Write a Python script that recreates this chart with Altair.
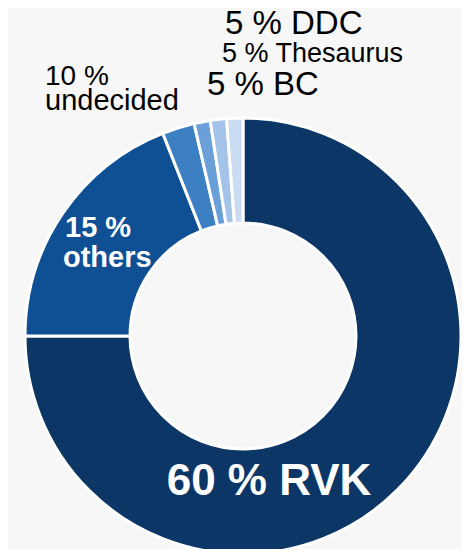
import altair as alt
import pandas as pd

# Slices, clockwise from 12 o'clock, with the angular share each one is drawn with
categories = ["RVK", "others", "undecided", "BC", "Thesaurus", "DDC"]
drawn_share = [75.0, 19.0, 2.4, 1.2, 1.2, 1.2]
label_pct = ["60 %", "15 %", "10 %", "5 %", "5 %", "5 %"]
slice_colors = ["#0b3665", "#0f4f94", "#3d7fc3", "#6a9fd8", "#a3c3e8", "#c9dcf1"]

BG = "#f8f7f7"
FONT = "Liberation Sans"

df = pd.DataFrame({
    "category": categories,
    "share": drawn_share,
    "order": list(range(len(categories))),
})

donut = alt.Chart(df).mark_arc(
    outerRadius=218, innerRadius=113, stroke="white", strokeWidth=3
).encode(
    x=alt.value(235),
    y=alt.value(328),
    theta=alt.Theta("share:Q", stack=True),
    color=alt.Color("category:N",
                    scale=alt.Scale(domain=categories, range=slice_colors),
                    legend=None),
    order=alt.Order("order:Q", sort="ascending"),
)

lab = dict(zip(categories, label_pct))


def txt(text, x, y, size, color="black", weight="normal", align="left"):
    return alt.Chart(pd.DataFrame({"t": [text]})).mark_text(
        x=x, y=y, align=align, baseline="alphabetic", font=FONT,
        fontSize=size, color=color, fontWeight=weight,
    ).encode(text="t:N")


layers = [
    donut,
    txt(f"{lab['RVK']} RVK", 261, 487, 44, "white", "bold", "center"),
    txt(lab["others"], 57, 229, 29, "white", "bold"),
    txt("others", 55, 259, 29, "white", "bold"),
    txt(lab["undecided"], 37, 77, 28),
    txt("undecided", 37, 102, 29),
    txt(f"{lab['DDC']} DDC", 217, 26, 33),
    txt(f"{lab['Thesaurus']} Thesaurus", 214, 54, 27),
    txt(f"{lab['BC']} BC", 199, 87, 33),
]

chart = alt.layer(*layers).properties(
    width=454, height=541,
    autosize=alt.AutoSizeParams(type="none"),
    padding=0,
    background=BG,
).configure_view(stroke=None)

chart.save("out.html", embed_options={"renderer": "svg", "actions": False})
